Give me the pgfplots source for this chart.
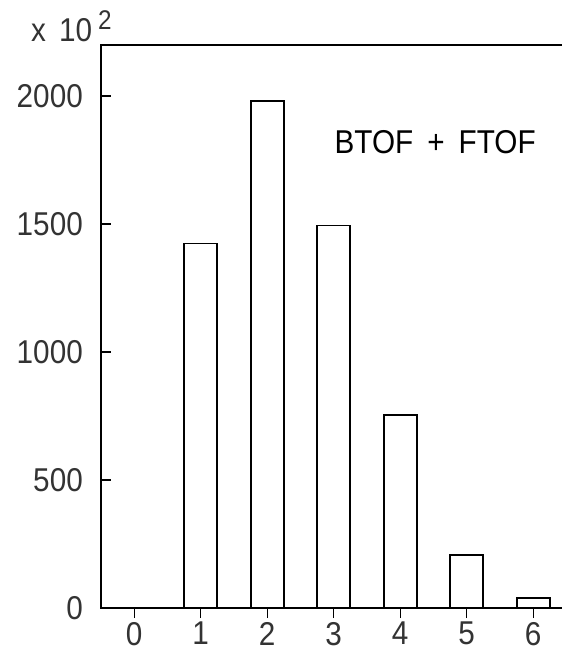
\documentclass[border=0pt]{standalone}
\usepackage{fontspec}
\setmainfont{Liberation Sans}[FakeStretch=0.9]
\usepackage{pgfplots}
\pgfplotsset{compat=1.18}
\begin{document}
\fontsize{33}{38}\selectfont
\begin{tikzpicture}
\begin{axis}[
  scale only axis,
  width=465.5pt, height=563pt,
  xmin=-0.5, xmax=6.5, ymin=0, ymax=2200,
  axis on top,
  axis line style={line width=1.6pt, black},
  tick style={line width=1.4pt, black},
  major tick length=10pt,
  tick align=inside,
  xtick={0,1,2,3,4,5,6}, ytick={0,500,1000,1500,2000},
  xtick pos=left, ytick pos=left,
  /pgf/number format/assume math mode=true,
  /pgf/number format/1000 sep={},
  tick label style={inner sep=0pt, font=\fontsize{33}{38}\selectfont, text=black!80},
  xticklabel style={yshift=-4pt},
  yticklabel style={xshift=-18pt},
  ybar, bar width=33pt, bar shift=0pt,
]
\addplot[draw=black, fill=white, line width=1.6pt] coordinates {(0,0) (1,1425) (2,1980) (3,1495) (4,755) (5,207) (6,39)};
\node[anchor=base west, inner sep=0pt, font=\fontsize{33}{38}\selectfont] at (axis cs:3.01,1777) {BTOF\hspace{14pt}+\hspace{14pt}FTOF};
\end{axis}
\node[anchor=base west, inner sep=0pt, text=black!80] at (-70pt,566pt) {x\hspace{13pt}10\hspace{6pt}\raisebox{12pt}{\fontsize{27}{27}\selectfont 2}};
\pgfresetboundingbox
\useasboundingbox (-101pt,-45pt) rectangle (461pt,608pt);
\end{tikzpicture}
\end{document}
